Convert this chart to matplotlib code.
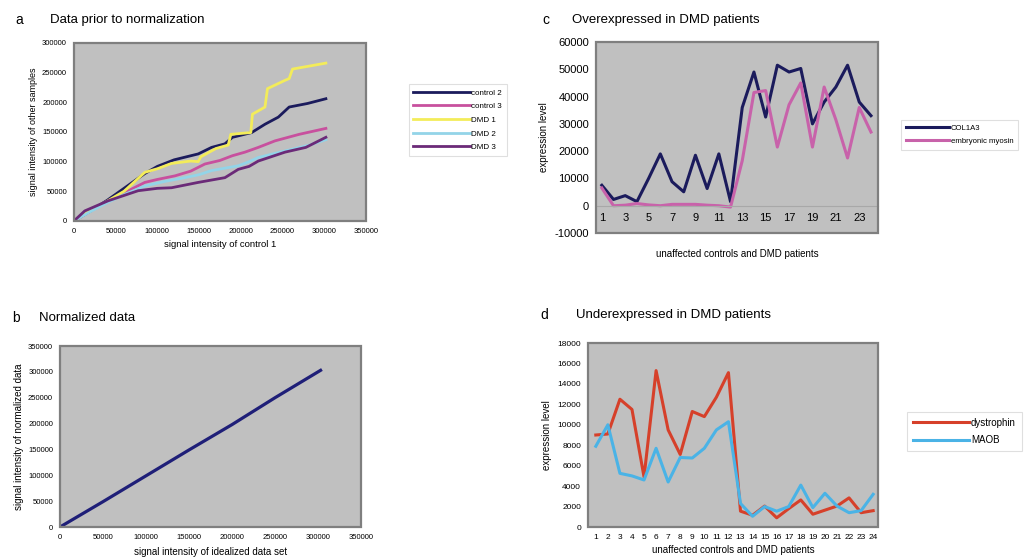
import matplotlib.pyplot as plt
from matplotlib.patches import Rectangle

plt.rcParams['font.family'] = ['Liberation Sans', 'DejaVu Sans']
plt.rcParams['axes.unicode_minus'] = False

# panel a: signal intensity of other samples vs control 1
ctrl2_x = [0, 20000, 40000, 60000, 85000, 100000, 120000, 149000, 165000, 181000, 190000,
           213000, 229000, 245000, 258000, 280000, 302000]
ctrl2_y = [0, 17000, 35000, 55000, 80000, 92000, 103000, 113000, 124000, 130000, 141000,
           149000, 163000, 175000, 192000, 198000, 206000]
ctrl3_x = [0, 20000, 40000, 61000, 85000, 100000, 121000, 140000, 157000, 175000, 190000,
           205000, 221000, 241000, 270000, 302000]
ctrl3_y = [0, 17000, 33000, 48000, 65000, 70000, 76000, 84000, 96000, 102000, 110000,
           116000, 124000, 135000, 146000, 156000]
dmd1_x = [0, 10000, 20000, 37000, 60000, 85000, 100000, 117000, 140000, 149000, 152000,
          170000, 185000, 188000, 212000, 214000, 229000, 232000, 253000, 258000, 262000, 302000]
dmd1_y = [0, 9000, 18000, 31000, 50000, 82000, 88000, 97000, 101000, 100000, 108000,
          122000, 128000, 146000, 149000, 180000, 192000, 223000, 237000, 240000, 256000, 266000]
dmd2_x = [0, 20000, 40000, 61000, 85000, 110000, 133000, 150000, 165000, 197000, 210000,
          221000, 253000, 280000, 302000]
dmd2_y = [0, 16000, 31000, 45000, 59000, 67000, 73000, 78000, 85000, 93000, 100000,
          107000, 118000, 127000, 137000]
dmd3_x = [0, 13000, 41000, 77000, 100000, 117000, 149000, 181000, 197000, 210000, 221000,
          253000, 278000, 302000]
dmd3_y = [0, 17000, 34000, 51000, 55000, 56000, 65000, 73000, 87000, 92000, 101000,
          116000, 124000, 141000]

# panel b: normalized data
norm_x = [0, 50000, 100000, 150000, 200000, 250000, 303000]
norm_y = [0, 49000, 99000, 149000, 198000, 250000, 303000]

# panels c and d: 24 samples
samples = list(range(1, 25))
col1a3 = [7500, 2300, 3700, 1500, 10000, 19000, 8800, 5100, 18500, 6300, 19000, 1500,
          36000, 49000, 32500, 51500, 49000, 50300, 30000, 38000, 43500, 51500, 38000, 33000]
emb_myosin = [6500, 0, 200, 800, 300, 0, 500, 500, 500, 200, 0, -500,
              16500, 41500, 42200, 21500, 37000, 45000, 21500, 43500, 31500, 17500, 36000, 27000]
dystrophin = [9000, 9100, 12500, 11500, 4900, 15300, 9500, 7100, 11300, 10800, 12700, 15100,
              1550, 1150, 2050, 900, 1800, 2650, 1250, 1650, 2050, 2850, 1400, 1600]
maob = [7900, 10000, 5250, 5000, 4600, 7700, 4400, 6800, 6750, 7700, 9500, 10300,
        2300, 1050, 2000, 1550, 2000, 4100, 1900, 3300, 2050, 1400, 1600, 3200]

GRAY = '#c0c0c0'
FRAME = '#7f7f7f'


def excel_axes(fig, rect, tick_size):
    ax = fig.add_axes(rect)
    ax.set_facecolor(GRAY)
    for s in ax.spines.values():
        s.set_visible(False)
    ax.add_patch(Rectangle((0, 0), 1, 1, transform=ax.transAxes, fill=False,
                           edgecolor=FRAME, lw=1.6, zorder=5, clip_on=False))
    ax.tick_params(labelsize=tick_size, length=0, pad=5)
    return ax


def excel_legend(fig, ax, anchor, size, hl=7):
    leg = fig.legend(*ax.get_legend_handles_labels(), loc='upper left',
                     bbox_to_anchor=anchor, bbox_transform=fig.transFigure,
                     fontsize=size, frameon=True, fancybox=False, handlelength=hl,
                     handletextpad=0.2, borderpad=0.6, labelspacing=0.75)
    leg.get_frame().set_edgecolor('#d8d8d8')
    leg.get_frame().set_linewidth(0.8)
    return leg


fig = plt.figure(figsize=(10.27, 5.60), dpi=100)

# ---- a
ax = excel_axes(fig, [0.072, 0.6054, 0.2843, 0.3179], 5.5)
ax.plot(ctrl2_x, ctrl2_y, color='#1b1b5c', lw=2, label='control 2')
ax.plot(ctrl3_x, ctrl3_y, color='#c8509e', lw=2, label='control 3')
ax.plot(dmd1_x, dmd1_y, color='#f3ec5a', lw=2, label='DMD 1')
ax.plot(dmd2_x, dmd2_y, color='#93d4e8', lw=2, label='DMD 2')
ax.plot(dmd3_x, dmd3_y, color='#6b2a78', lw=2, label='DMD 3')
ax.set_xlim(0, 350000)
ax.set_ylim(0, 300000)
ax.set_xticks(range(0, 350001, 50000))
ax.set_yticks(range(0, 300001, 50000))
ax.set_xlabel('signal intensity of control 1', fontsize=6.8, labelpad=4)
ax.set_ylabel('signal intensity of other samples', fontsize=6.5, labelpad=3)
excel_legend(fig, ax, (0.394, 0.857), 5.8)

# ---- b
ax = excel_axes(fig, [0.0584, 0.0589, 0.2931, 0.3232], 5.5)
ax.plot(norm_x, norm_y, color='#1f1f78', lw=2.3)
ax.set_xlim(0, 350000)
ax.set_ylim(0, 350000)
ax.set_xticks(range(0, 350001, 50000))
ax.set_yticks(range(0, 350001, 50000))
ax.set_xlabel('signal intensity of idealized data set', fontsize=7, labelpad=4)
ax.set_ylabel('signal intensity of normalized data', fontsize=7, labelpad=3)

# ---- c
ax = excel_axes(fig, [0.5803, 0.5839, 0.2746, 0.3411], 8)
ax.plot(samples, col1a3, color='#1b1b5c', lw=2.2, label='COL1A3')
ax.plot(samples, emb_myosin, color='#c862aa', lw=2.2, label='embryonic myosin')
ax.set_xlim(0.5, 24.6)
ax.set_ylim(-10000, 60000)
ax.set_yticks(range(-10000, 60001, 10000))
ax.set_xticks(range(1, 25, 2))
ax.spines['bottom'].set_visible(True)
ax.spines['bottom'].set_position(('data', 0))
ax.spines['bottom'].set_color('#a8a8a8')
ax.tick_params(axis='x', pad=5)
ax.set_xlabel('unaffected controls and DMD patients', fontsize=7)
ax.xaxis.set_label_coords(0.5, -0.085)
ax.set_ylabel('expression level', fontsize=7, labelpad=4)
excel_legend(fig, ax, (0.8735, 0.793), 5.6, hl=5.6)

# ---- d
ax = excel_axes(fig, [0.5725, 0.0589, 0.2824, 0.3286], 6)
ax.plot(samples, dystrophin, color='#d6402a', lw=2.2, label='dystrophin')
ax.plot(samples, maob, color='#4ab3e6', lw=2.2, label='MAOB')
ax.set_xlim(0.35, 24.4)
ax.set_ylim(0, 18000)
ax.set_yticks(range(0, 18001, 2000))
ax.set_xticks(samples)
ax.set_xlabel('unaffected controls and DMD patients', fontsize=7, labelpad=3)
ax.set_ylabel('expression level', fontsize=7, labelpad=4)
excel_legend(fig, ax, (0.8783, 0.273), 7, hl=5.8)

# panel letters and titles
fig.text(15 / 1027, 1 - 20 / 560, 'a', fontsize=10, va='center')
fig.text(50 / 1027, 1 - 20 / 560, 'Data prior to normalization', fontsize=9.5, va='center')
fig.text(12 / 1027, 1 - 318 / 560, 'b', fontsize=10, va='center')
fig.text(39 / 1027, 1 - 318 / 560, 'Normalized data', fontsize=9.5, va='center')
fig.text(542 / 1027, 1 - 20 / 560, 'c', fontsize=10, va='center')
fig.text(572 / 1027, 1 - 20 / 560, 'Overexpressed in DMD patients', fontsize=9.5, va='center')
fig.text(540 / 1027, 1 - 315 / 560, 'd', fontsize=10, va='center')
fig.text(576 / 1027, 1 - 315 / 560, 'Underexpressed in DMD patients', fontsize=9.5, va='center')

fig.savefig('out.png', dpi=100)
